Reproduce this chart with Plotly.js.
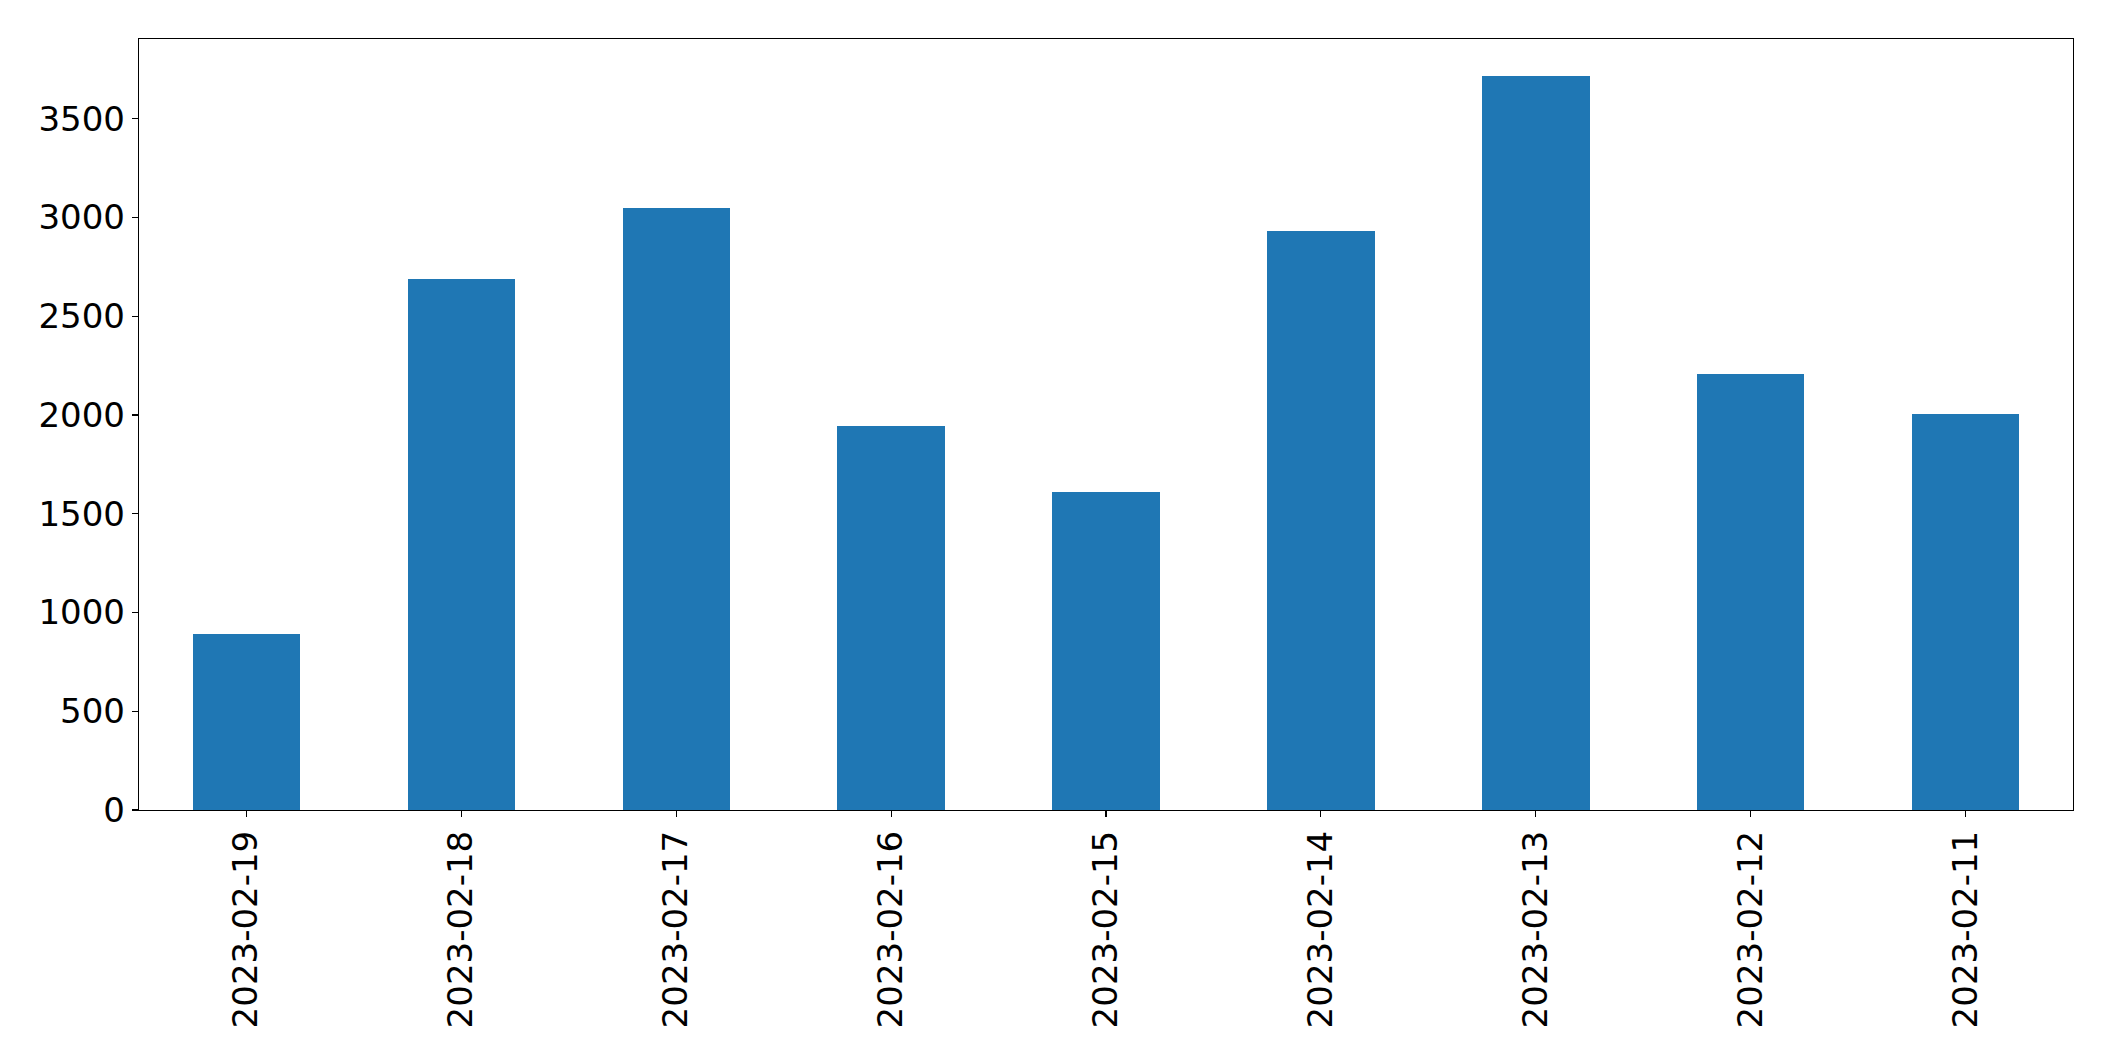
<!DOCTYPE html>
<html>
<head>
<meta charset="utf-8">
<script src="https://cdn.plot.ly/plotly-3.0.1.min.js"></script>
<style>
html, body { margin: 0; padding: 0; background: #ffffff; }
#chart { width: 2115px; height: 1061px; }
</style>
</head>
<body>
<div id="chart"></div>
<script>
const categories = ["2023-02-19", "2023-02-18", "2023-02-17", "2023-02-16", "2023-02-15", "2023-02-14", "2023-02-13", "2023-02-12", "2023-02-11"];
const values = [892, 2688, 3049, 1946, 1611, 2933, 3718, 2209, 2006];
const yTicks = [0, 500, 1000, 1500, 2000, 2500, 3000, 3500];

const idx = categories.map((_, i) => i);
const yMax = Math.max(...values) * 1.05;

const trace = {
  type: "bar",
  x: idx,
  y: values,
  width: 0.5,
  marker: { color: "#1f77b4", line: { width: 0 } },
  hoverinfo: "x+y"
};

const axisFont = { family: "DejaVu Sans, sans-serif", size: 34, color: "#000000" };

const layout = {
  width: 2115,
  height: 1061,
  margin: { l: 139, r: 42, t: 39, b: 251, pad: 0 },
  paper_bgcolor: "#ffffff",
  plot_bgcolor: "#ffffff",
  showlegend: false,
  bargap: 0,
  xaxis: {
    range: [-0.5, categories.length - 0.5],
    tickmode: "array",
    tickvals: idx,
    ticktext: categories,
    tickangle: -90,
    ticks: "outside",
    ticklen: 6,
    tickwidth: 1.2,
    tickcolor: "#000000",
    showgrid: false,
    zeroline: false,
    showline: true,
    linecolor: "#000000",
    linewidth: 1.2,
    mirror: true,
    tickfont: axisFont,
    fixedrange: true
  },
  yaxis: {
    range: [0, yMax],
    tickmode: "array",
    tickvals: yTicks,
    ticktext: yTicks.map(String),
    ticks: "outside",
    ticklen: 6,
    tickwidth: 1.2,
    tickcolor: "#000000",
    showgrid: false,
    zeroline: false,
    showline: true,
    linecolor: "#000000",
    linewidth: 1.2,
    mirror: true,
    tickfont: axisFont,
    fixedrange: true
  }
};

Plotly.newPlot("chart", [trace], layout, { displayModeBar: false, staticPlot: true });
</script>
</body>
</html>
